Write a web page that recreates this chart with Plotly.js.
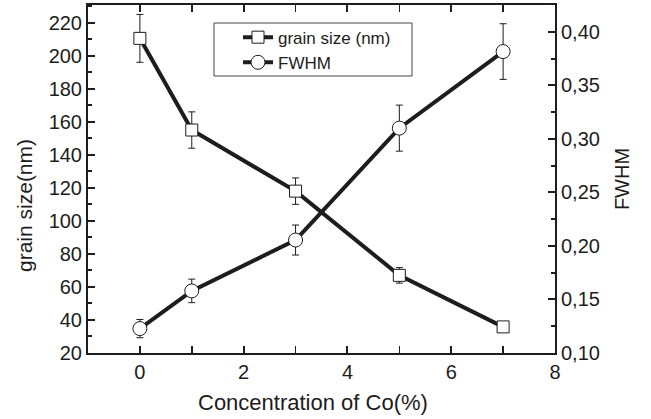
<!DOCTYPE html>
<html>
<head>
<meta charset="utf-8">
<script src="https://cdn.plot.ly/plotly-3.0.1.min.js"></script>
<style>html,body{margin:0;padding:0;background:#fff;}#chart{width:651px;height:419px;}</style>
</head>
<body>
<div id="chart"></div>
<script>
// Data
const coConcentration = [0, 1, 3, 5, 7];
const grainSize = [210.5, 155, 118, 67, 35.8];
const grainSizeErr = [14.5, 11, 8, 4.7, 2];
const fwhm = [0.1228, 0.158, 0.2055, 0.310, 0.3815];
const fwhmErr = [0.0085, 0.011, 0.014, 0.0215, 0.026];

const seriesNames = ['grain size (nm)', 'FWHM'];
const xTitle = 'Concentration of Co(%)';
const yTitle = 'grain size(nm)';
const y2Title = 'FWHM';

const ink = '#1e1c1c';
const font = 'Liberation Sans, Arial, sans-serif';

const traces = [
  {
    x: coConcentration, y: grainSize, name: seriesNames[0],
    type: 'scatter', mode: 'lines+markers',
    line: {color: ink, width: 4},
    marker: {symbol: 'square', size: 12, color: '#fff', line: {color: ink, width: 1}},
    error_y: {type: 'data', array: grainSizeErr, visible: true, color: ink, thickness: 1, width: 3.5}
  },
  {
    x: coConcentration, y: fwhm, name: seriesNames[1], yaxis: 'y2',
    type: 'scatter', mode: 'lines+markers',
    line: {color: ink, width: 4},
    marker: {symbol: 'circle', size: 14, color: '#fff', line: {color: ink, width: 1}},
    error_y: {type: 'data', array: fwhmErr, visible: true, color: ink, thickness: 1, width: 3.5}
  }
];

const axisCommon = {
  showgrid: false, zeroline: false, showline: true,
  linecolor: ink, linewidth: 2, ticks: 'inside', tickcolor: ink,
  tickwidth: 2, ticklen: 7,
  tickfont: {family: font, size: 20, color: ink}
};

const layout = {
  width: 651, height: 419,
  margin: {l: 88, r: 96, t: 5, b: 66},
  paper_bgcolor: '#fff', plot_bgcolor: '#fff',
  separators: ',.',
  showlegend: true,
  legend: {
    x: (238 - 88) / 467, y: 0.958, xanchor: 'left', yanchor: 'top',
    borderwidth: 0, bgcolor: 'rgba(0,0,0,0)',
    font: {family: font, size: 17, color: ink},
    tracegroupgap: 0, itemwidth: 30
  },
  shapes: [{
    type: 'rect', xref: 'paper', yref: 'paper',
    x0: (214 - 88) / 467, x1: (412 - 88) / 467,
    y0: (353 - 76) / 348, y1: (353 - 23) / 348,
    line: {color: '#444', width: 1}, fillcolor: 'rgba(0,0,0,0)', layer: 'below'
  }],
  annotations: [{
    text: yTitle, xref: 'paper', yref: 'paper',
    x: (24 - 88) / 467, y: (353 - 206) / 348,
    xanchor: 'center', yanchor: 'middle', textangle: -90, showarrow: false,
    font: {family: font, size: 21, color: ink}
  }, {
    text: xTitle, xref: 'paper', yref: 'paper',
    x: (313 - 88) / 467, y: (353 - 402) / 348,
    xanchor: 'center', yanchor: 'middle', showarrow: false,
    font: {family: font, size: 22, color: ink}
  }],
  xaxis: Object.assign({}, axisCommon, {
    range: [-1, 8], dtick: 2, tick0: 0, mirror: 'allticks',
    minor: {dtick: 1, ticks: 'inside', ticklen: 6, tickwidth: 1.5, tickcolor: ink}
  }),
  yaxis: Object.assign({}, axisCommon, {
    range: [20, 230.7], dtick: 20, tick0: 20,
    minor: {dtick: 10, ticks: 'inside', ticklen: 4, tickwidth: 2, tickcolor: ink}
  }),
  yaxis2: Object.assign({}, axisCommon, {
    overlaying: 'y', side: 'right',
    range: [0.10, 0.425], dtick: 0.05, tick0: 0.10, tickformat: '.2f',
    minor: {dtick: 0.025, ticks: 'inside', ticklen: 4, tickwidth: 2, tickcolor: ink},
    title: {text: y2Title, font: {family: font, size: 20, color: ink}, standoff: 16}
  })
};

Plotly.newPlot('chart', traces, layout, {displayModeBar: false, staticPlot: true});
</script>
</body>
</html>
